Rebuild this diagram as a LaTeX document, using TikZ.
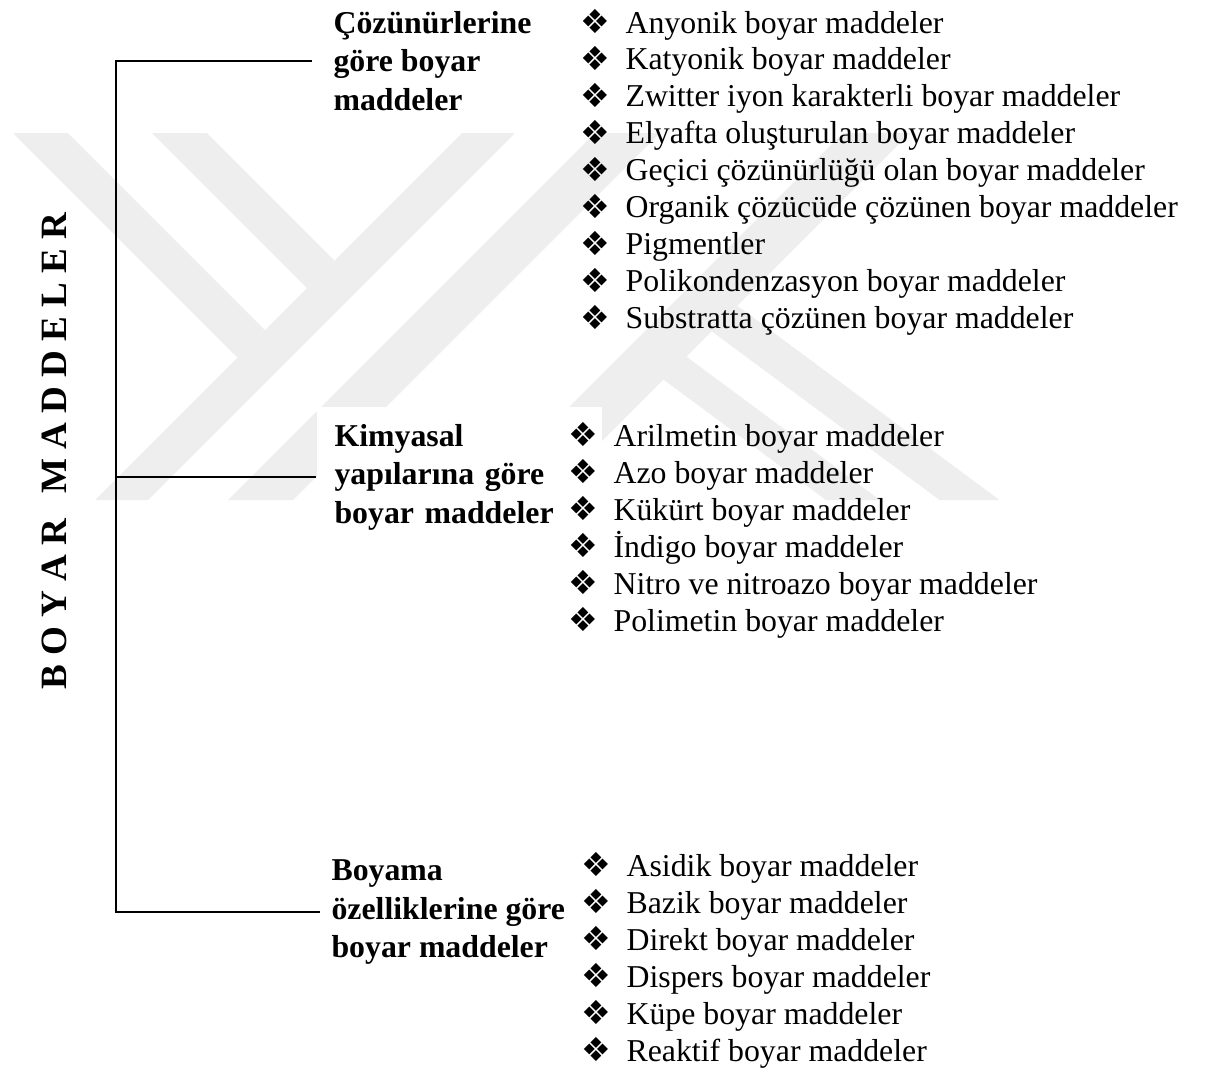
\documentclass[tikz,border=0pt]{standalone}
\usepackage{fontspec}
\setmainfont{Liberation Serif}
\newfontfamily\symfont{DejaVu Sans}
\definecolor{filigran}{gray}{0.935}
\newcommand{\isaret}{\makebox[17pt][l]{\symfont\fontsize{12.5}{14}\selectfont\raisebox{-0.3pt}{❖}}}

\tikzset{
  baslik/.style={anchor=west, align=left, inner sep=0pt, font=\bfseries\fontsize{12}{14.5}\selectfont},
  madde/.style={anchor=base west, inner sep=0pt, font=\fontsize{12}{14}\selectfont},
  kol/.style={line width=0.75pt},
}

\begin{document}
\begin{tikzpicture}[x=0.3773pt, y=-0.3773pt]

    \useasboundingbox (0,0) rectangle (1207,1068);

    \fill[filigran] (13,133) -- (68,133) -- (265,330) -- (237.5,357.5) -- cycle;
    \fill[filigran] (152,133) -- (207,133) -- (334.5,260.5) -- (307,288) -- cycle;
    \fill[filigran] (462,133) -- (515,133) -- (148,500) -- (95,500) -- cycle;
    \fill[filigran] (595,133) -- (660,133) -- (293,500) -- (228,500) -- cycle;
    \fill[filigran] (843,133) -- (910,133) -- (543,500) -- (476,500) -- cycle;
    \fill[filigran] (737.3,305.7) -- (999.5,500) -- (939.5,500) -- (711.7,331.3) -- cycle;
    \fill[filigran] (686.4,356.6) -- (880,500) -- (826,500) -- (663.4,379.6) -- cycle;

    \node (ana) [rotate=90, inner sep=0pt, font=\bfseries\fontsize{14}{16}\selectfont] at (54.5,451) {B O Y A R\hspace{9.5pt}M A D D E L E R};

    \coordinate (ust) at (116,61);
    \coordinate (alt) at (116,912);

    \node (coz) [baslik] at (333,61) {Çözünürlerine\\göre boyar\\maddeler};
    \node (kim) [baslik, fill=white, text width=94pt, inner xsep=6.8pt, inner ysep=6.4pt] at (316,477) {Kimyasal\\yapılarına göre\\boyar maddeler};
    \node (boy) [baslik] at (331,912) {Boyama\\özelliklerine göre\\boyar maddeler};

    \draw[kol, shorten <=7.9pt, shorten >=4.2pt] (coz.west) -- (ust) -- (alt) -- (boy.west);
    \draw[kol] (ust |- kim.west) -- (kim.west);

    \foreach \metin [count=\i] in {Anyonik boyar maddeler, Katyonik boyar maddeler, Zwitter iyon karakterli boyar maddeler, Elyafta oluşturulan boyar maddeler, Geçici çözünürlüğü olan boyar maddeler, Organik çözücüde çözünen boyar maddeler, Pigmentler, Polikondenzasyon boyar maddeler, Substratta çözünen boyar maddeler} {
        \node (coz-\i) [madde] at (580,{33+36.9*(\i-1)}) {\isaret\metin};
    }

    \foreach \metin [count=\i] in {Arilmetin boyar maddeler, Azo boyar maddeler, Kükürt boyar maddeler, İndigo boyar maddeler, Nitro ve nitroazo boyar maddeler, Polimetin boyar maddeler} {
        \node (kim-\i) [madde] at (568,{446+37*(\i-1)}) {\isaret\metin};
    }

    \foreach \metin [count=\i] in {Asidik boyar maddeler, Bazik boyar maddeler, Direkt boyar maddeler, Dispers boyar maddeler, Küpe boyar maddeler, Reaktif boyar maddeler} {
        \node (boy-\i) [madde] at (581,{876+37*(\i-1)}) {\isaret\metin};
    }

\end{tikzpicture}
\end{document}
